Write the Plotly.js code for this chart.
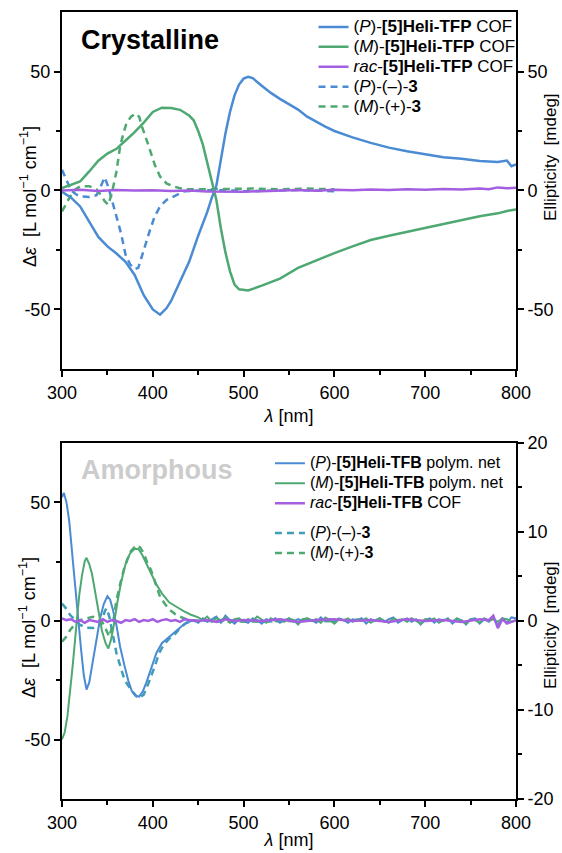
<!DOCTYPE html>
<html>
<head>
<meta charset="utf-8">
<script src="https://cdn.plot.ly/plotly-3.0.1.min.js"></script>
<style>html,body{margin:0;padding:0;background:#fff;}#chart{width:562px;height:853px;}</style>
</head>
<body>
<div id="chart"></div>
<script>
// ---------- Top panel: Crystalline ----------
const crysCofPWl = [300,310,320,330,340,350,360,370,380,390,400,408,415,420,430,440,450,460,465,470,475,480,485,490,495,500,505,510,520,530,540,550,560,570,580,590,600,620,640,660,680,700,720,740,760,780,790,795,800];
const crysCofP   = [-0.5,-3,-6.7,-13,-19.5,-23.5,-26.5,-30,-35.5,-44,-50,-52.2,-49.5,-46.5,-38.5,-30,-19,-9,-3,2,13,24,33,40,44.5,47,47.8,47.2,44,41,38.5,36.3,34,31,28.8,26.8,25,22.3,20,18,16.5,15.3,14,13.3,12.4,12,12.6,10.2,11];
const crysCofMWl = [300,310,320,330,340,350,360,370,380,390,400,410,420,430,440,445,450,455,460,465,470,475,480,485,490,495,505,520,540,560,580,600,620,640,660,680,700,720,740,760,780,790,800];
const crysCofM   = [1,2.5,3.8,8,12.5,15.5,17.5,21,24.5,28.5,33,34.8,34.7,33.9,31.5,29.5,25,19.5,12,4,-4,-16,-26,-34,-39.5,-41.5,-42,-40,-37,-32.5,-29.3,-26.3,-23.5,-20.8,-19,-17.3,-15.8,-14.2,-12.2,-10.8,-9.6,-8.6,-8];
const crysRacWl  = [300,320,340,360,380,400,420,440,460,480,500,520,540,560,580,600,620,640,660,680,700,720,740,760,770,780,790,800];
const crysRac    = [0,0.3,-0.2,0.2,0,0.1,-0.2,0,-0.4,-0.6,-0.5,-0.3,0,0.2,-0.1,0.3,0.1,0.4,0.2,0.5,0.3,0.6,0.4,0.8,0.5,1.3,0.9,1.1];
const crysCmpPWl = [300,305,310,315,320,330,338,343,347,351,355,360,365,370,375,380,384,388,393,397,402,408,415,423,430,435,450,480,500,530,560,600];
const crysCmpP   = [8.7,4,0,-1.5,-2.5,-2.7,-2,2,5.5,1.5,-4.5,-11,-18,-27,-31,-33,-32.5,-27.5,-21,-16.5,-11,-6.7,-4,-2.5,-1,-0.3,0,0.2,-0.3,0,0.2,-0.3];
const crysCmpMWl = [300,305,309,315,320,330,338,343,347,351,355,360,364,368,371,376,381,385,388,393,397,402,408,415,423,434,450,480,510,540,570,600];
const crysCmpM   = [-8.8,-5.5,-2.5,0.5,1.7,1.8,0.5,-2,-4.5,-6,-1,8,18.5,24.5,28.3,31,32.3,31,26.9,21.5,17.1,11,5.9,3,1.7,0.5,0.5,0.8,0.8,0.5,0.8,0.5];

// ---------- Bottom panel: Amorphous ----------
// polymer nets / COF read on right axis [mdeg]
const amoPolyPWl = [300,302,305,308,312,315,318,321,324,327,330,334,338,342,346,350,353,356,360,364,369,373,377,381,385,389,393,398,404,410,416,422,428,434,440,445,450,455,460,465,470,475,480,485,490,495,500,505,510,515,520,525,530,535,540,545,550,555,560,565,570,575,580,585,590,595,600,605,610,615,620,625,630,635,640,645,650,655,660,665,670,675,680,685,690,695,700,705,710,715,720,725,730,735,740,745,750,755,760,765,770,775,780,785,790,795,800];
const amoPolyP   = [13.9,14.4,13.3,11.2,6.7,3.2,0,-3.2,-6.1,-7.7,-6.9,-4.5,-2.1,0.3,1.9,2.8,2.4,1.3,-0.5,-2.9,-5.1,-6.7,-7.9,-8.4,-8.5,-7.9,-6.9,-5.3,-3.6,-2.5,-2,-1.5,-0.9,-0.4,-0.1,0.1,-0.2,0.3,-0.1,0.2,0.5,-0.2,0.6,0.1,-0.3,0.2,0,-0.2,0.3,0.1,-0.3,0.2,0,0.3,-0.2,0.1,0.3,-0.1,0.2,0,0.3,0.1,-0.2,0.4,0,0.2,-0.1,0.3,0.1,-0.2,0.2,0.1,0.3,-0.3,0.2,0,0.3,-0.1,0.2,0.4,-0.2,0.1,0.3,-0.1,0.2,-0.4,0.1,0.3,-0.2,0.2,0,0.3,-0.3,0.2,0.1,-0.4,0.2,0.3,-0.3,0.2,-0.1,0.4,-0.5,0.3,-0.2,0.4,0.3];
const amoPolyMWl = [300,303,306,309,312,316,319,322,325,327,330,333,336,340,344,348,351,354,357,361,365,370,375,380,384,388,393,398,404,410,418,426,434,442,450,455,460,465,470,475,480,485,490,495,500,505,510,515,520,525,530,535,540,545,550,555,560,565,570,575,580,585,590,595,600,605,610,615,620,625,630,635,640,645,650,655,660,665,670,675,680,685,690,695,700,705,710,715,720,725,730,735,740,745,750,755,760,765,770,775,780,785,790,795,800];
const amoPolyM   = [-13.3,-12.5,-10.7,-8,-4.8,-0.3,2.9,5.1,6.7,7.1,6.4,5.3,3.5,1.1,-1.1,-2.5,-3.1,-2.1,-0.5,2.1,4.3,6.4,7.6,8.1,8.1,7.5,6.4,5.3,4.1,3.1,2.1,1.6,1.1,0.7,0.4,0.1,0.5,-0.1,0.3,0.1,0.4,-0.2,0.2,0.3,-0.1,0.2,0,0.5,0.1,-0.2,0.3,0,0.2,-0.1,0.3,0.1,-0.4,0.2,0.3,0,0.2,-0.2,0.4,0.1,-0.3,0.2,0.1,0.3,-0.1,0.2,0,0.3,-0.2,0.1,0.3,0,-0.2,0.3,0.1,0.2,-0.1,0.3,0,-0.3,0.2,0.1,0.3,-0.2,0.1,0.2,-0.1,0.3,0,-0.3,0.2,0.1,-0.2,0.3,0,0.2,-0.1,0.3,0.2,-0.1,0.1];
const amoRacWl   = [300,305,310,315,320,325,330,335,340,345,350,355,360,365,370,375,380,385,390,395,400,405,410,415,420,425,430,435,440,450,460,470,480,490,500,520,540,560,580,600,620,640,660,680,700,720,740,760,770,775,780,785,790,800];
const amoRac     = [0.3,0.1,0.2,-0.1,0.1,-0.2,0.1,0,-0.1,0.2,-0.1,0.1,0,-0.2,0.1,0,0.2,-0.1,0.1,0,0.2,-0.1,0.1,0.2,0,0.1,-0.1,0.2,0.1,0,0.1,-0.1,0.2,0,0.1,0,0.2,-0.1,0.1,0.2,0,0.1,-0.1,0.2,0,0.1,-0.1,0.2,0.1,0.6,-0.8,0.2,-0.3,0.1];
// compound 3 read on left axis [Δε]
const amoCmpPWl = [300,305,309,315,320,327,334,340,344,347,349,352,355,360,365,369,377,384,390,395,402,407,412,418,423,430,437,445,480,520,560,600];
const amoCmpP   = [7.4,5,2.5,0,-1.7,-2.8,-3,-2,-0.5,4,5.4,2,-4,-13.6,-20,-25,-29.5,-32.6,-31,-26.5,-19.3,-13.5,-10,-7.5,-6.2,-3,-0.7,0,0.2,-0.2,0.1,0];
const amoCmpMWl = [300,305,309,315,320,334,340,345,349,352,356,360,364,368,372,376,382,386,390,394,398,403,408,414,419,425,430,440,480,520,560,600];
const amoCmpM   = [-8.7,-6.5,-3.8,-1,0.4,1.8,0.8,-1,-4,-6.6,-1.5,8.8,15.5,21.5,26,29.5,32,31,28.5,24.5,21.5,15.5,10.2,6.8,4.6,2.8,1.8,0.3,-0.3,-0.2,0.1,0];

const tickX = [300,400,500,600,700,800];
const tickXMinor = [350,450,550,650,750];
const tickY = [-50,0,50];
const tickYMinor = [-25,25];
const tickYR2 = [-20,-10,0,10,20];
const tickYR2Minor = [-15,-5,5,15];

const BLUE = '#4a8bd3', GREEN = '#4ea872', PURPLE = '#a35fe0', TEAL = '#3f9db5';
const FONT = 'Arial, "Liberation Sans", sans-serif';
const big = (s, px) => '<span style="font-size:' + px + 'px">' + s + '</span>';

const traces = [
  {x: crysCofPWl, y: crysCofP, xaxis:'x', yaxis:'y2', mode:'lines', line:{color:BLUE, width:2.5}, name:big('(<i>P</i>)-<b>[5]Heli-TFP</b> COF',17), legend:'legend'},
  {x: crysCofMWl, y: crysCofM, xaxis:'x', yaxis:'y2', mode:'lines', line:{color:GREEN, width:2.5}, name:big('(<i>M</i>)-<b>[5]Heli-TFP</b> COF',17), legend:'legend'},
  {x: crysRacWl, y: crysRac, xaxis:'x', yaxis:'y2', mode:'lines', line:{color:PURPLE, width:2.5}, name:big('<i>rac</i>-<b>[5]Heli-TFP</b> COF',17), legend:'legend'},
  {x: crysCmpPWl, y: crysCmpP, xaxis:'x', yaxis:'y', mode:'lines', line:{color:BLUE, width:2.5, dash:'7px,5px'}, name:big('(<i>P</i>)-(–)-<b>3</b>',17), legend:'legend'},
  {x: crysCmpMWl, y: crysCmpM, xaxis:'x', yaxis:'y', mode:'lines', line:{color:GREEN, width:2.5, dash:'7px,5px'}, name:big('(<i>M</i>)-(+)-<b>3</b>',17), legend:'legend'},

  {x: amoPolyPWl, y: amoPolyP, xaxis:'x2', yaxis:'y4', mode:'lines', line:{color:BLUE, width:2}, name:big('(<i>P</i>)-<b>[5]Heli-TFB</b> polym. net',16), legend:'legend2', legendgroup:'a'},
  {x: amoPolyMWl, y: amoPolyM, xaxis:'x2', yaxis:'y4', mode:'lines', line:{color:GREEN, width:2}, name:big('(<i>M</i>)-<b>[5]Heli-TFB</b> polym. net',16), legend:'legend2', legendgroup:'a'},
  {x: amoRacWl, y: amoRac, xaxis:'x2', yaxis:'y4', mode:'lines', line:{color:PURPLE, width:2.5}, name:big('<i>rac</i>-<b>[5]Heli-TFB</b> COF',16), legend:'legend2', legendgroup:'a'},
  {x: amoCmpPWl, y: amoCmpP, xaxis:'x2', yaxis:'y3', mode:'lines', line:{color:TEAL, width:2.5, dash:'7px,5px'}, name:big('(<i>P</i>)-(–)-<b>3</b>',16), legend:'legend2', legendgroup:'b'},
  {x: amoCmpMWl, y: amoCmpM, xaxis:'x2', yaxis:'y3', mode:'lines', line:{color:GREEN, width:2.5, dash:'7px,5px'}, name:big('(<i>M</i>)-(+)-<b>3</b>',16), legend:'legend2', legendgroup:'b'}
];

function axisBase(extra) {
  return Object.assign({
    showline:true, linewidth:2, linecolor:'#000', showgrid:false, zeroline:false,
    ticks:'outside', ticklen:6, tickwidth:2, tickcolor:'#000',
    tickfont:{family:FONT, size:18, color:'#000'}, tickmode:'array'
  }, extra);
}
const minorY = {tickmode:'array', tickvals:tickYMinor, ticks:'outside', ticklen:4, tickwidth:2, tickcolor:'#000', showgrid:false};
const minorX = {tickmode:'array', tickvals:tickXMinor, ticks:'outside', ticklen:4, tickwidth:2, tickcolor:'#000', showgrid:false};
const lab = v => v.map(String);
const titleFont = {family:FONT, size:18, color:'#000'};
const titleFontR = {family:FONT, size:17, color:'#000'};
const yTitleL = 'Δ<i>ε</i>  [L mol<sup>−1</sup> cm<sup>−1</sup>]';
const yTitleR = 'Ellipticity\u00a0\u00a0[mdeg]';

const layout = {
  width:562, height:853,
  margin:{l:62, r:46, t:12, b:54},
  paper_bgcolor:'#fff', plot_bgcolor:'#fff',
  font:{family:FONT, color:'#000'},
  xaxis: axisBase({domain:[0,1], anchor:'y', range:[300,800], mirror:true, tickvals:tickX, ticktext:lab(tickX), minor:minorX,
    title:{text:'<i>λ</i> [nm]', font:titleFont, standoff:8}}),
  yaxis: axisBase({domain:[0.5464,1], anchor:'x', range:[-75,75], tickvals:tickY, ticktext:lab(tickY), minor:minorY}),
  yaxis2: axisBase({overlaying:'y', side:'right', anchor:'x', range:[-75,75], tickvals:tickY, ticktext:lab(tickY), minor:minorY}),
  xaxis2: axisBase({domain:[0,1], anchor:'y3', range:[300,800], mirror:true, tickvals:tickX, ticktext:lab(tickX), minor:minorX,
    title:{text:'<i>λ</i> [nm]', font:titleFont, standoff:2}}),
  yaxis3: axisBase({domain:[0,0.4524], anchor:'x2', range:[-75,75], tickvals:tickY, ticktext:lab(tickY), minor:minorY}),
  yaxis4: axisBase({overlaying:'y3', side:'right', anchor:'x2', range:[-20,20], tickvals:tickYR2, ticktext:lab(tickYR2),
    minor:{tickmode:'array', tickvals:tickYR2Minor, ticks:'outside', ticklen:4, tickwidth:2, tickcolor:'#000', showgrid:false}}),
  legend:{x:0.554, y:1.0, xanchor:'left', yanchor:'top', bgcolor:'rgba(0,0,0,0)', borderwidth:0,
    font:{family:FONT, size:13, color:'#000'}, traceorder:'normal', tracegroupgap:0},
  legend2:{x:0.458, y:0.4455, xanchor:'left', yanchor:'top', bgcolor:'rgba(0,0,0,0)', borderwidth:0,
    font:{family:FONT, size:13, color:'#000'}, traceorder:'grouped', tracegroupgap:10},
  showlegend:true,
  annotations:[
    {xref:'paper', yref:'paper', x:0.037, y:0.9645, xanchor:'left', yanchor:'middle', showarrow:false,
      text:'<b>Crystalline</b>', font:{family:FONT, size:27, color:'#000'}},
    {xref:'paper', yref:'paper', x:0.037, y:0.418, xanchor:'left', yanchor:'middle', showarrow:false,
      text:'<b>Amorphous</b>', font:{family:FONT, size:27, color:'#cccccc'}},
    {xref:'paper', yref:'paper', x:-0.0749, y:0.7662, xanchor:'center', yanchor:'middle', textangle:-90, showarrow:false,
      text:yTitleL, font:titleFont},
    {xref:'paper', yref:'paper', x:-0.0749, y:0.2186, xanchor:'center', yanchor:'middle', textangle:-90, showarrow:false,
      text:yTitleL, font:titleFont},
    {xref:'paper', yref:'paper', x:1.0771, y:0.8158, xanchor:'center', yanchor:'middle', textangle:-90, showarrow:false,
      text:yTitleR, font:titleFontR},
    {xref:'paper', yref:'paper', x:1.0771, y:0.2211, xanchor:'center', yanchor:'middle', textangle:-90, showarrow:false,
      text:yTitleR, font:titleFontR}
  ]
};

Plotly.newPlot('chart', traces, layout, {displayModeBar:false, staticPlot:true});
</script>
</body>
</html>
